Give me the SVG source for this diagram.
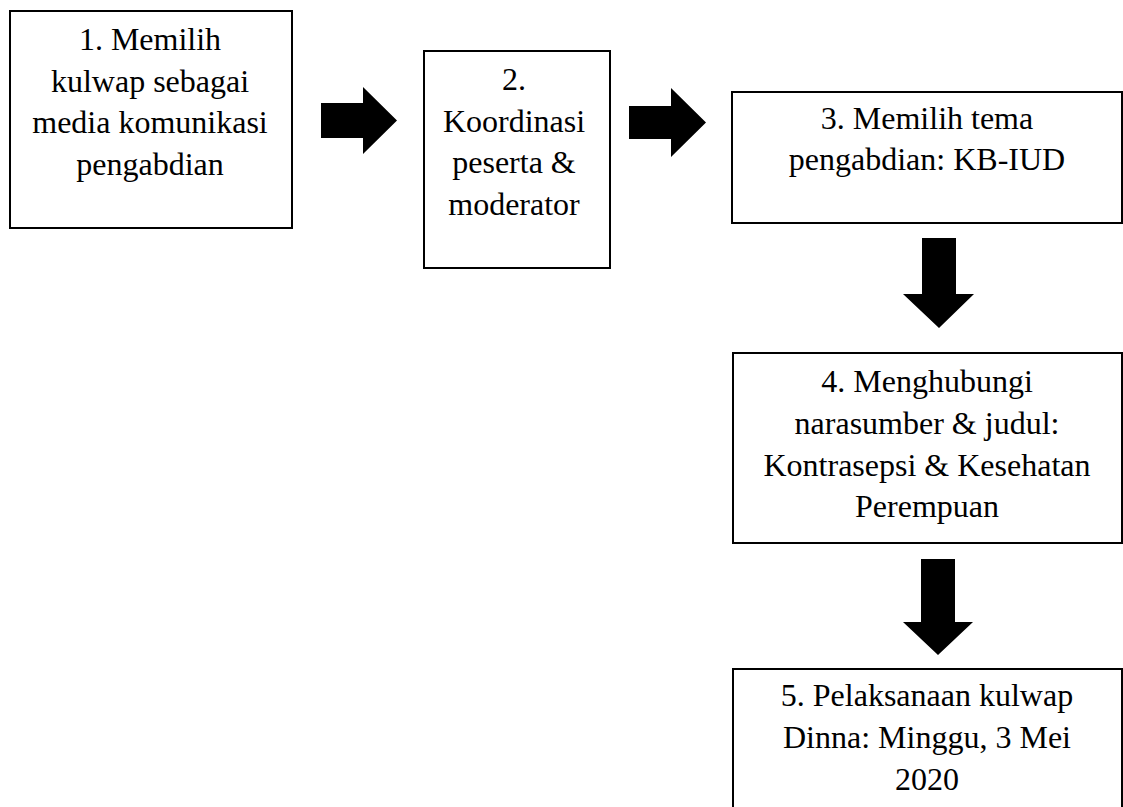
<svg xmlns="http://www.w3.org/2000/svg" width="1123" height="807" viewBox="0 0 1123 807">
<style>
.box{fill:#fff;stroke:#000;stroke-width:2}
.arr{fill:#000;stroke:none}
text{font-family:"Liberation Serif","Times New Roman",serif;font-size:32px;fill:#000;text-anchor:middle}
</style>
<rect width="1123" height="807" fill="#fff"/>
<g id="connectors">
<path class="arr" d="M321,103 H363 V87 L397,120.5 L363,154 V138 H321 Z"/>
<path class="arr" d="M629,106 H671 V88 L706,122.5 L671,157 V139 H629 Z"/>
<path class="arr" d="M922,238 H956 V294 H974 L939,328 L903,294 H922 Z"/>
<path class="arr" d="M921,559 H955 V622 H973 L938,655 L903,622 H921 Z"/>
</g>
<g id="node1">
<rect class="box" x="10" y="11" width="282" height="217"/>
<text x="150" y="50">1. Memilih</text>
<text x="150" y="92">kulwap sebagai</text>
<text x="150" y="133">media komunikasi</text>
<text x="150" y="175">pengabdian</text>
</g>
<g id="node2">
<rect class="box" x="424" y="51" width="186" height="217"/>
<text x="514" y="90">2.</text>
<text x="514" y="132">Koordinasi</text>
<text x="514" y="173">peserta &amp;</text>
<text x="514" y="215">moderator</text>
</g>
<g id="node3">
<rect class="box" x="732" y="92" width="390" height="131"/>
<text x="927" y="129">3. Memilih tema</text>
<text x="927" y="170">pengabdian: KB-IUD</text>
</g>
<g id="node4">
<rect class="box" x="733" y="353" width="389" height="190"/>
<text x="927" y="392">4. Menghubungi</text>
<text x="927" y="434">narasumber &amp; judul:</text>
<text x="927" y="476">Kontrasepsi &amp; Kesehatan</text>
<text x="927" y="517">Perempuan</text>
</g>
<g id="node5">
<rect class="box" x="733" y="669" width="389" height="160"/>
<text x="927" y="706">5. Pelaksanaan kulwap</text>
<text x="927" y="748">Dinna: Minggu, 3 Mei</text>
<text x="927" y="790">2020</text>
</g>
</svg>
